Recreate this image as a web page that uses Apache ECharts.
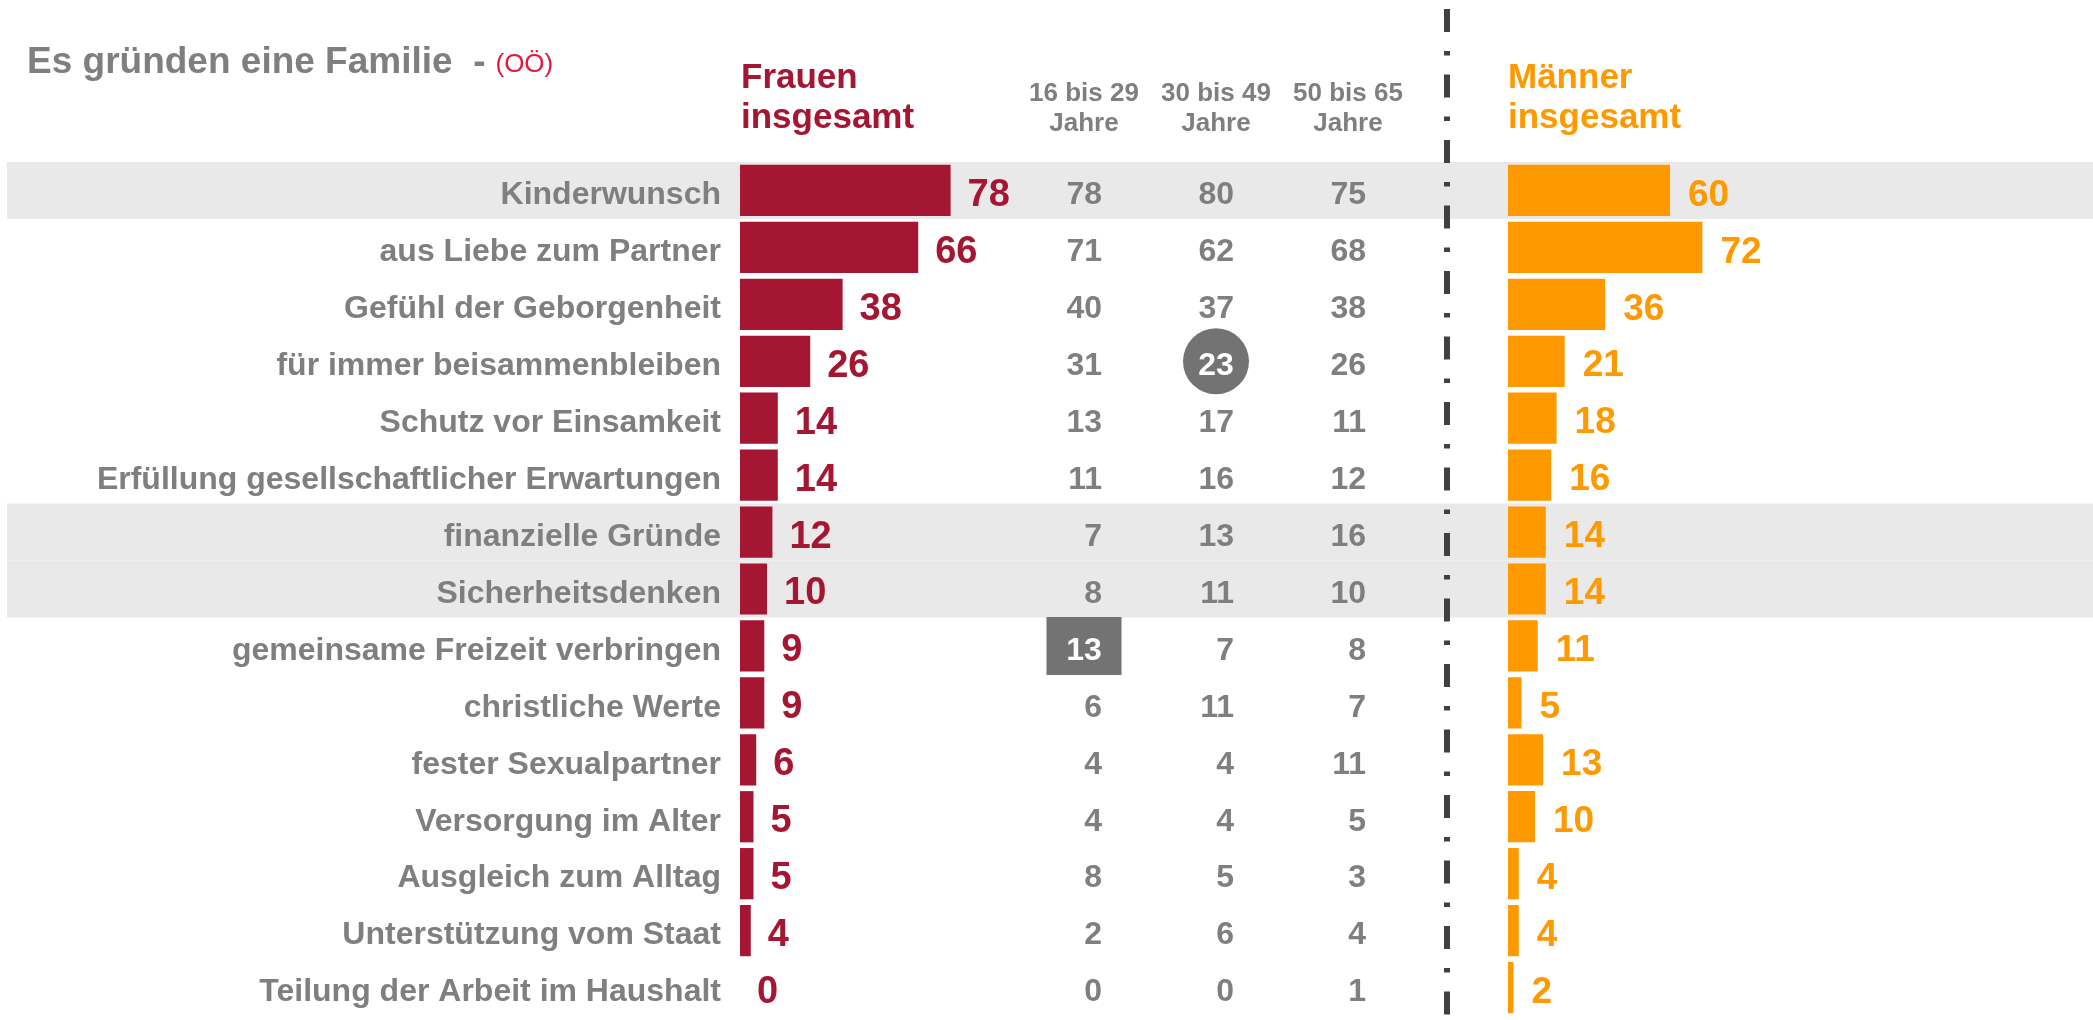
<!DOCTYPE html>
<html>
<head>
<meta charset="utf-8">
<title>Es gründen eine Familie</title>
<script src="https://cdn.jsdelivr.net/npm/echarts@6/dist/echarts.min.js"></script>
<style>
  html, body { margin: 0; padding: 0; background: #fff; }
  #chart { width: 2093px; height: 1020px; }
</style>
</head>
<body>
<div id="chart"></div>
<script>
// Daten
const categories = [
  'Kinderwunsch',
  'aus Liebe zum Partner',
  'Gefühl der Geborgenheit',
  'für immer beisammenbleiben',
  'Schutz vor Einsamkeit',
  'Erfüllung gesellschaftlicher Erwartungen',
  'finanzielle Gründe',
  'Sicherheitsdenken',
  'gemeinsame Freizeit verbringen',
  'christliche Werte',
  'fester Sexualpartner',
  'Versorgung im Alter',
  'Ausgleich zum Alltag',
  'Unterstützung vom Staat',
  'Teilung der Arbeit im Haushalt'
]
const frauen  = [78, 66, 38, 26, 14, 14, 12, 10, 9, 9, 6, 5, 5, 4, 0]
const age16   = [78, 71, 40, 31, 13, 11, 7, 8, 13, 6, 4, 4, 8, 2, 0]
const age30   = [80, 62, 37, 23, 17, 16, 13, 11, 7, 11, 4, 4, 5, 6, 0]
const age50   = [75, 68, 38, 26, 11, 12, 16, 10, 8, 7, 11, 5, 3, 4, 1]
const maenner = [60, 72, 36, 21, 18, 16, 14, 14, 11, 5, 13, 10, 4, 4, 2]
const ageGroups = ['16 bis 29\nJahre', '30 bis 49\nJahre', '50 bis 65\nJahre']
// graue Hintergrundzeilen (1 = hinterlegt)
const bandRows = [1, 0, 0, 0, 0, 0, 1, 1, 0, 0, 0, 0, 0, 0, 0]
// hervorgehobene Werte: [Spalte, Zeile]
const circleMarks = [[1, 3]]
const boxMarks = [[0, 8]]

const FONT = '"Liberation Sans", Arial, sans-serif'
const GREY = '#7f7f7f'
const RED = '#a51632'
const ORANGE = '#ff9900'
const MARK = '#737373'

const TOP = 162
const HEIGHT = 854
const SHIFT = 5   // Text etwas tiefer setzen (wie im Original)

function catAxis (gridIndex, show) {
  return {
    type: 'category',
    gridIndex: gridIndex,
    data: categories,
    inverse: true,
    axisLine: { show: false },
    axisTick: { show: false },
    axisLabel: show ? {
      margin: 19,
      formatter: v => '{c|' + v + '}',
      rich: {
        c: {
          padding: [SHIFT * 2, 0, 0, 0],
          fontFamily: FONT,
          fontSize: 32,
          fontWeight: 'bold',
          color: GREY
        }
      }
    } : { show: false }
  }
}

function valAxis (gridIndex, max) {
  return {
    type: 'value',
    gridIndex: gridIndex,
    min: 0,
    max: max,
    show: false
  }
}

// Alterszahlen als Punkte [Spalte, Zeile, Wert]
const ageData = []
;[age16, age30, age50].forEach((col, ci) => {
  col.forEach((v, ri) => {
    const item = { value: [ci, ri, v] }
    if (circleMarks.some(m => m[0] === ci && m[1] === ri)) {
      item.symbol = 'circle'
      item.symbolSize = 66
      item.itemStyle = { color: MARK, opacity: 1 }
      item.label = { color: '#fff', align: 'center', offset: [0, SHIFT] }
    } else if (boxMarks.some(m => m[0] === ci && m[1] === ri)) {
      item.symbol = 'rect'
      item.symbolSize = [75, 58]
      item.itemStyle = { color: MARK, opacity: 1 }
      item.label = { color: '#fff', align: 'center', offset: [0, SHIFT] }
    }
    ageData.push(item)
  })
})

const chart = echarts.init(document.getElementById('chart'), null, { renderer: 'canvas' })

chart.setOption({
  animation: false,
  title: [
    {
      text: '{a|Es gründen eine Familie  -}  {b|(OÖ)}',
      left: 27,
      top: 44,
      padding: 0,
      textStyle: {
        rich: {
          a: { fontFamily: FONT, fontSize: 37, fontWeight: 'bold', color: GREY },
          b: { fontFamily: FONT, fontSize: 26, fontWeight: 'normal', color: '#e2183f', padding: [4, 0, 0, 0] }
        }
      }
    },
    {
      text: 'Frauen\ninsgesamt',
      left: 741,
      top: 58,
      padding: 0,
      textStyle: { fontFamily: FONT, fontSize: 35, fontWeight: 'bold', color: RED, lineHeight: 40 }
    },
    {
      text: 'Männer\ninsgesamt',
      left: 1508,
      top: 58,
      padding: 0,
      textStyle: { fontFamily: FONT, fontSize: 35, fontWeight: 'bold', color: ORANGE, lineHeight: 40 }
    }
  ],
  grid: [
    { left: 7, right: 0, top: TOP, height: HEIGHT },        // Hintergrund
    { left: 740, width: 270, top: TOP, height: HEIGHT },    // Frauen
    { left: 1018, width: 396, top: TOP, height: HEIGHT },   // Altersgruppen
    { left: 1508, width: 270, top: TOP, height: HEIGHT }    // Männer
  ],
  xAxis: [
    valAxis(0, 1),
    valAxis(1, 100),
    {
      type: 'category',
      gridIndex: 2,
      data: ageGroups,
      position: 'top',
      axisLine: { show: false },
      axisTick: { show: false },
      axisLabel: {
        interval: 0,
        hideOverlap: false,
        margin: 23,
        fontFamily: FONT,
        fontSize: 26,
        fontWeight: 'bold',
        color: GREY,
        lineHeight: 30
      }
    },
    valAxis(3, 100)
  ],
  yAxis: [
    catAxis(0, false),
    catAxis(1, true),
    catAxis(2, false),
    catAxis(3, false)
  ],
  graphic: [
    {
      type: 'line',
      z: 100,
      shape: { x1: 1447, y1: 9, x2: 1447, y2: 1020 },
      style: { stroke: '#404040', lineWidth: 6, lineDash: [23, 19, 4.5, 19] }
    }
  ],
  series: [
    {
      type: 'bar',
      xAxisIndex: 0,
      yAxisIndex: 0,
      data: bandRows,
      barCategoryGap: '0%',
      itemStyle: { color: '#e9e9e9' },
      silent: true,
      z: 0
    },
    {
      type: 'bar',
      xAxisIndex: 1,
      yAxisIndex: 1,
      data: frauen,
      barCategoryGap: '10%',
      itemStyle: { color: RED },
      label: {
        show: true,
        position: 'right',
        distance: 17,
        offset: [0, SHIFT],
        fontFamily: FONT,
        fontSize: 38,
        fontWeight: 'bold',
        color: RED
      }
    },
    {
      type: 'scatter',
      xAxisIndex: 2,
      yAxisIndex: 2,
      data: ageData,
      symbolSize: 0,
      itemStyle: { color: MARK, opacity: 1 },
      label: {
        show: true,
        position: 'inside',
        align: 'right',
        offset: [18, SHIFT],
        formatter: p => p.value[2],
        fontFamily: FONT,
        fontSize: 32,
        fontWeight: 'bold',
        color: GREY
      }
    },
    {
      type: 'bar',
      xAxisIndex: 3,
      yAxisIndex: 3,
      data: maenner,
      barCategoryGap: '10%',
      itemStyle: { color: ORANGE },
      label: {
        show: true,
        position: 'right',
        distance: 18,
        offset: [0, SHIFT],
        fontFamily: FONT,
        fontSize: 37,
        fontWeight: 'bold',
        color: ORANGE
      }
    }
  ]
})
</script>
</body>
</html>
